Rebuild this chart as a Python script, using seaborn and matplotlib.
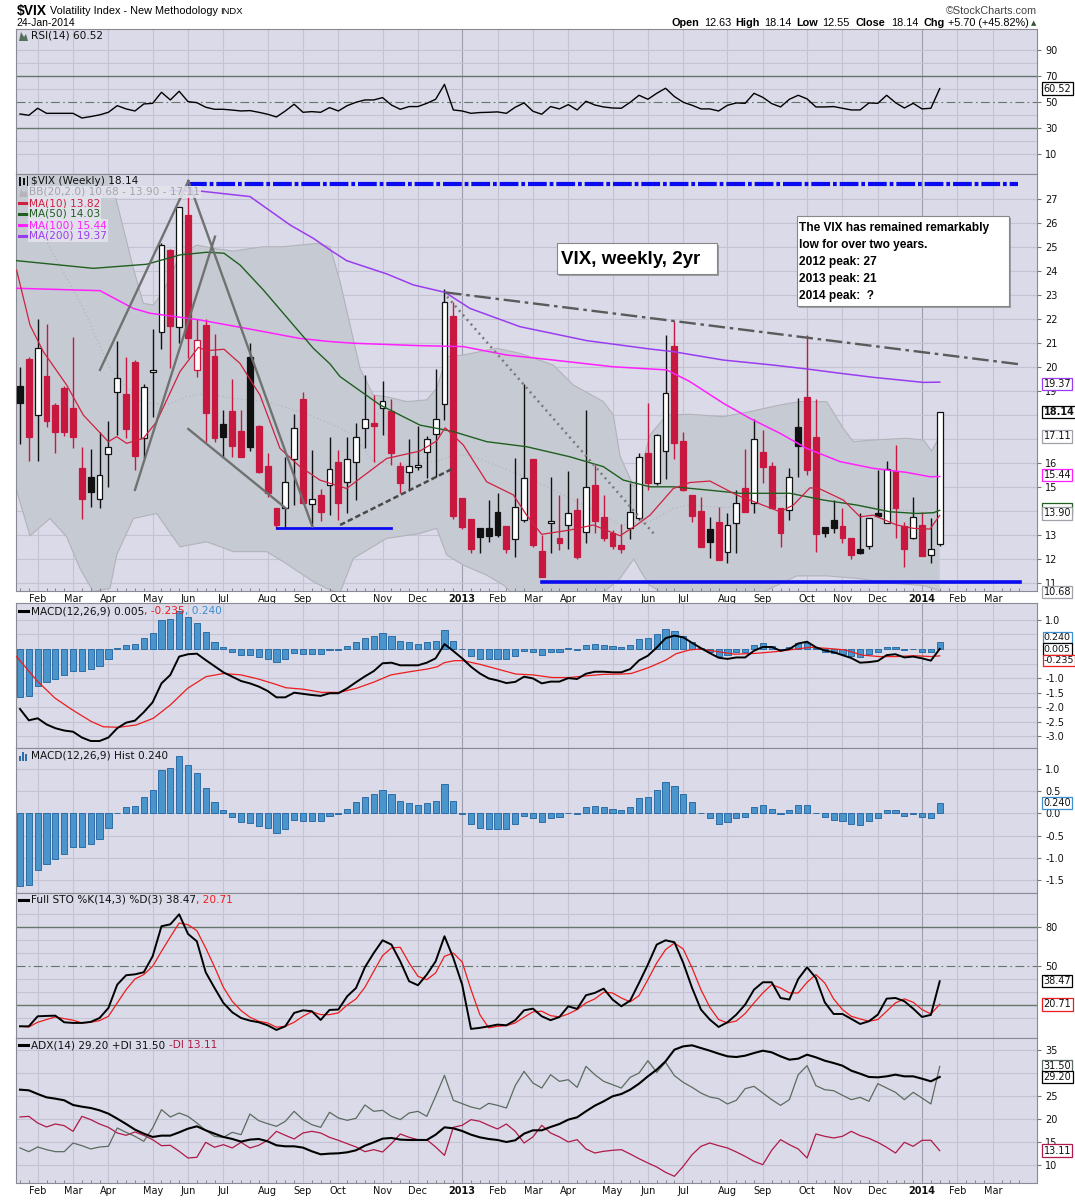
import numpy as np
import pandas as pd
import matplotlib
matplotlib.use("Agg")
import matplotlib.pyplot as plt
import seaborn as sns
from matplotlib.transforms import blended_transform_factory
from matplotlib.lines import Line2D
from matplotlib.patches import Rectangle, Polygon

W, H = 1075, 1200

# ---- weekly $VIX candles: week 0 = week of 23-Jan-2012, week 104 = 24-Jan-2014 ----
first_week = "2012-01-23"
prior_close = 18.0
opens = [19.21, 20.35, 17.99, 19.63, 18.42, 19.11, 18.28, 15.78, 15.40, 14.49,
         16.36, 18.94, 18.88, 20.19, 17.03, 19.78, 21.44, 24.88, 21.68, 26.33,
         19.88, 21.75, 20.46, 17.63, 18.17, 17.33, 20.40, 17.54, 15.88, 14.11,
         14.11, 16.15, 18.67, 14.28, 14.67, 15.08, 16.06, 15.19, 16.06, 17.44,
         17.65, 18.31, 18.17, 15.88, 15.61, 15.82, 16.44, 17.21, 18.44, 22.13,
         14.53, 13.67, 13.28, 13.28, 13.97, 13.38, 12.82, 13.63, 16.15, 12.33,
         13.49, 12.86, 13.44, 14.04, 13.11, 15.08, 13.76, 13.10, 12.58, 13.28,
         13.69, 16.43, 15.15, 16.51, 20.88, 16.92, 14.67, 14.00, 13.24, 13.56,
         12.28, 13.51, 14.94, 14.35, 16.47, 15.88, 14.11, 14.04, 17.49, 18.76,
         17.07, 13.35, 13.63, 13.38, 12.89, 12.40, 12.54, 13.90, 13.49, 15.67,
         13.38, 12.86, 13.42, 12.19, 12.63]
highs = [19.99, 20.40, 22.00, 21.79, 18.50, 19.22, 21.24, 16.68, 16.58, 17.31,
         17.75, 21.08, 20.43, 20.29, 19.29, 21.58, 25.15, 24.90, 26.65, 27.75,
         22.00, 22.00, 21.36, 18.21, 19.50, 18.21, 20.99, 17.60, 16.43, 14.11,
         16.26, 18.04, 18.94, 16.54, 14.90, 17.07, 16.54, 17.10, 17.65, 19.67,
         18.83, 19.42, 18.67, 16.06, 17.00, 17.54, 17.13, 19.92, 23.25, 22.72,
         14.53, 13.67, 13.28, 14.46, 14.74, 13.38, 16.19, 19.29, 16.15, 13.00,
         15.43, 14.67, 15.68, 14.53, 18.21, 15.92, 14.67, 13.21, 13.46, 15.15,
         16.40, 18.51, 17.20, 21.33, 21.92, 17.31, 14.67, 14.60, 13.76, 14.18,
         13.93, 14.88, 16.58, 17.82, 17.38, 16.06, 14.11, 15.78, 18.69, 21.33,
         18.67, 13.35, 14.46, 14.11, 12.89, 13.93, 13.69, 15.71, 16.08, 16.75,
         13.56, 14.60, 13.97, 13.69, 18.14]
lows = [16.78, 16.10, 16.10, 17.51, 16.40, 17.14, 16.61, 13.65, 14.18, 14.14,
        15.01, 17.17, 17.03, 15.71, 16.19, 17.93, 20.74, 19.97, 20.99, 20.36,
        19.60, 16.89, 16.89, 16.26, 16.26, 16.26, 16.50, 15.60, 14.60, 13.25,
        13.35, 14.25, 14.30, 13.35, 13.60, 13.83, 13.63, 13.90, 14.46, 16.61,
        16.03, 17.17, 15.92, 14.74, 14.88, 15.71, 15.39, 15.43, 17.79, 13.67,
        13.24, 12.26, 12.26, 12.72, 12.90, 12.24, 12.07, 13.56, 12.51, 11.26,
        12.26, 12.38, 12.44, 11.99, 12.65, 13.10, 12.76, 12.44, 12.26, 12.82,
        13.63, 14.88, 15.08, 15.33, 16.15, 14.85, 13.56, 12.51, 12.06, 11.96,
        11.82, 12.26, 13.97, 13.90, 15.15, 14.14, 12.51, 13.63, 15.43, 15.50,
        12.31, 12.93, 13.07, 12.65, 11.99, 12.21, 12.44, 13.79, 13.49, 12.89,
        11.68, 12.82, 12.14, 11.82, 12.55]
closes = [18.51, 17.10, 20.79, 17.76, 17.31, 17.28, 17.10, 14.49, 14.81, 15.49,
          16.68, 19.53, 17.42, 16.31, 19.15, 19.87, 25.08, 21.72, 26.65, 21.22,
          21.13, 18.10, 17.06, 17.10, 16.72, 16.26, 16.68, 15.64, 14.74, 13.42,
          15.19, 17.44, 14.32, 14.50, 13.97, 15.74, 14.32, 16.15, 17.07, 17.82,
          17.56, 18.60, 16.40, 15.15, 15.88, 15.92, 16.99, 17.82, 22.69, 13.81,
          13.35, 12.44, 12.90, 12.95, 13.00, 12.44, 14.15, 15.36, 12.58, 11.26,
          13.58, 12.68, 13.90, 12.07, 14.99, 13.60, 12.86, 12.56, 12.44, 13.97,
          16.26, 15.15, 17.17, 18.90, 16.85, 14.88, 13.81, 12.51, 12.72, 11.96,
          13.42, 14.35, 13.97, 16.99, 15.85, 14.14, 13.10, 15.43, 16.72, 15.71,
          13.03, 13.07, 13.28, 12.89, 12.19, 12.26, 13.69, 13.79, 15.75, 14.14,
          12.42, 13.76, 12.14, 12.44, 18.14]

# ---- overlays (week, value) ----
ma10_x = [-0.38, 1.13, 2.64, 5.28, 7.16, 9.99, 10.93, 12.06, 13.95, 15.45, 18.09, 20.17, 21.11,
          23.07, 24.88, 27.14, 29.4, 31.66, 33.92, 36.94, 41.46, 45.23, 47.12, 48.07, 50.13,
          52.77, 55.79, 57.29, 58.99, 62.19, 64.83, 67.85, 69.73, 71.24, 73.88, 75.76, 78.02,
          81.04, 85.94, 87.45, 89.33, 90.46, 93.1, 94.99, 96.49, 99.13, 101.02, 102.9, 104.0]
ma10_y = [24.04, 21.75, 20.64, 19.25, 18.0, 16.89, 17.1, 16.82, 17.03, 17.72, 19.81, 20.82, 20.68,
          20.74, 20.15, 18.83, 16.61, 15.85, 15.29, 14.94, 16.19, 16.5, 16.92, 17.47, 16.75,
          15.22, 14.67, 13.83, 13.03, 13.21, 13.42, 12.97, 13.42, 13.83, 14.94, 15.19, 15.25,
          14.67, 13.97, 14.25, 14.97, 14.92, 14.46, 13.76, 13.83, 13.42, 13.28, 13.25, 13.82]
ma50_x = [-0.38, 8.29, 14.32, 18.09, 21.11, 23.07, 24.88, 27.52, 30.91, 33.17, 35.05, 36.19, 40.71,
          45.23, 49.0, 52.77, 57.29, 62.19, 65.96, 68.22, 71.24, 73.88, 77.65, 81.42, 87.07,
          90.84, 94.61, 98.38, 101.4, 103.28, 104.0]
ma50_y = [24.43, 24.11, 24.28, 24.67, 24.78, 24.74, 24.25, 23.21, 21.75, 20.78, 20.13, 19.6, 18.42,
          17.58, 17.31, 16.89, 16.68, 16.26, 15.85, 15.29, 15.01, 15.01, 14.88, 14.74, 14.74,
          14.46, 14.25, 13.97, 13.9, 13.93, 14.03]
ma100_x = [-0.38, 9.05, 12.82, 14.7, 20.35, 26.01, 31.66, 35.05, 37.69, 45.23, 50.13, 55.03, 60.31,
           67.09, 71.24, 73.13, 75.76, 79.53, 82.55, 85.94, 88.96, 92.73, 96.49, 100.26, 102.9, 104.0]
ma100_y = [23.28, 23.18, 22.44, 22.24, 21.96, 21.58, 21.19, 21.06, 20.99, 20.89, 20.85, 20.5, 20.29,
           20.01, 19.92, 19.88, 19.39, 18.49, 17.86, 17.24, 16.61, 16.06, 15.78, 15.61, 15.43, 15.44]
ma200_x = [16.96, 20.35, 26.01, 30.53, 33.17, 35.05, 36.94, 41.46, 44.48, 48.07, 50.89, 56.54,
           64.08, 71.24, 73.88, 79.53, 85.19, 88.96, 92.73, 96.49, 102.15, 104.0]
ma200_y = [27.35, 27.33, 27.1, 25.92, 25.36, 24.88, 24.43, 23.88, 23.42, 23.11, 22.44, 21.68,
           21.1, 20.75, 20.64, 20.29, 20.08, 19.92, 19.74, 19.57, 19.36, 19.37]
bbu_x = [-0.4, 5.0, 9.0, 10.93, 12.82, 13.95, 15.08, 16.21, 18.09, 19.98, 21.86, 24.12, 27.52, 29.78,
         33.55, 35.05, 36.19, 38.45, 39.96, 41.46, 43.72, 45.98, 47.12, 48.25, 50.13, 53.9, 56.54,
         60.31, 62.57, 65.96, 67.09, 67.85, 69.4, 70.11, 71.24, 73.13, 75.76, 79.53, 82.55, 85.94,
         88.2, 91.22, 93.1, 94.23, 96.49, 100.26, 102.15, 103.09, 104.0]
bbu_y = [31.0, 31.0, 29.5, 26.89, 24.11, 22.65, 22.58, 23.14, 24.67, 25.08, 24.94, 24.83, 25.01, 25.01,
         25.15, 25.01, 23.56, 19.94, 18.83, 18.76, 18.56, 18.63, 19.11, 20.43, 20.5, 20.78, 20.57,
         20.08, 19.25, 18.56, 18.0, 16.3, 15.0, 15.6, 17.17, 18.0, 18.03, 17.93, 18.14, 18.42,
         18.56, 18.56, 17.44, 16.89, 16.96, 17.03, 16.96, 16.5, 17.11]
bbl_x = [-0.4, 1.13, 3.39, 5.28, 6.78, 8.29, 10.18, 10.93, 12.82, 15.45, 18.09, 21.11, 24.12, 27.89,
         29.78, 33.17, 35.05, 36.19, 37.69, 41.46, 45.23, 47.12, 48.25, 50.13, 52.77, 54.66, 57.29,
         62.19, 65.96, 67.85, 69.4, 70.5, 71.24, 73.88, 79.53, 83.31, 87.83, 91.22, 94.61, 98.38,
         102.15, 104.0]
bbl_y = [14.88, 12.97, 13.69, 12.93, 11.61, 10.64, 10.78, 12.17, 13.69, 13.9, 12.51, 12.72, 12.31,
         12.31, 11.89, 11.06, 10.71, 10.6, 12.03, 12.86, 13.07, 13.28, 12.17, 11.75, 11.33, 10.92,
         10.08, 10.0, 10.6, 11.2, 12.0, 11.3, 10.9, 10.3, 10.3, 10.5, 11.3, 11.3, 11.2, 11.0,
         10.9, 10.68]
bbm_x = [-0.4, 1.5, 3.02, 7.16, 10.18, 13.57, 16.59, 18.85, 21.11, 24.12, 27.89, 31.66, 35.05, 37.69,
         39.96, 43.35, 47.12, 49.0, 50.89, 54.66, 58.43, 62.19, 65.96, 67.85, 71.24, 73.88, 75.76,
         79.53, 83.31, 87.07, 88.96, 90.84, 94.61, 98.38, 104.0]
bbm_y = [30.0, 27.5, 25.22, 22.44, 19.94, 18.56, 18.42, 18.76, 18.9, 18.69, 18.56, 18.14, 17.65, 17.17,
         16.06, 15.92, 16.06, 16.33, 16.33, 15.78, 15.22, 14.53, 13.83, 13.42, 13.56, 14.11, 14.25,
         14.14, 14.32, 14.67, 14.94, 14.67, 14.25, 14.11, 13.9]

# ---- hand-drawn annotation lines (week, price) ----
peak_x, peak_y = [19.0, 112.9], [27.62, 27.62]
floor12_x, floor12_y = [29.1, 42.0], [13.28, 13.28]
floor13_x, floor13_y = [59.0, 113.1], [11.03, 11.03]
grey_lines = [([9.05, 19.04], [19.88, 27.75]),
              ([19.04, 33.06], [27.75, 13.35]),
              ([13.0, 22.05], [14.88, 25.43]),
              ([19.03, 30.08], [17.42, 14.11])]
dashed_x, dashed_y = [36.2, 49.0], [13.42, 15.78]
dotted_x, dotted_y = [48.3, 71.8], [22.93, 13.0]
falling_x, falling_y = [48.07, 113.1], [23.11, 20.11]

# ---- indicators, one value per week ----
rsi = [41.0, 40.0, 45.4, 41.5, 41.5, 41.5, 41.5, 37.9, 39.0, 40.3,
       42.3, 47.4, 44.9, 43.3, 48.7, 49.2, 57.7, 51.8, 58.5, 50.5,
       49.7, 46.2, 44.6, 44.6, 44.0, 43.3, 43.6, 42.3, 40.8, 38.7,
       43.3, 48.5, 42.3, 42.8, 42.3, 45.9, 43.3, 47.4, 50.0, 51.8,
       51.8, 53.6, 47.9, 44.6, 46.7, 46.7, 49.2, 52.3, 63.8, 44.1,
       43.3, 41.5, 42.1, 42.3, 42.6, 41.5, 46.2, 49.5, 43.1, 40.8,
       46.7, 44.9, 48.2, 44.1, 50.8, 47.9, 46.4, 45.6, 45.4, 50.0,
       55.4, 52.3, 56.9, 60.8, 54.4, 50.0, 47.7, 44.9, 44.9, 43.3,
       47.7, 49.5, 49.2, 56.9, 53.8, 49.0, 46.4, 52.3, 55.4, 52.6,
       46.4, 46.4, 46.7, 45.4, 44.1, 44.1, 49.5, 49.2, 55.4, 49.7,
       45.6, 49.2, 44.9, 45.4, 60.52]
macd = [-2.06, -2.45, -2.38, -2.59, -2.72, -2.80, -2.84, -3.04, -3.16, -3.16,
        -3.04, -2.72, -2.53, -2.46, -2.17, -1.83, -1.18, -0.89, -0.26, -0.18,
        -0.16, -0.38, -0.59, -0.80, -0.95, -1.10, -1.18, -1.29, -1.44, -1.66,
        -1.66, -1.50, -1.54, -1.58, -1.61, -1.52, -1.52, -1.35, -1.14, -0.94,
        -0.76, -0.49, -0.47, -0.56, -0.56, -0.56, -0.47, -0.32, 0.17, -0.07,
        -0.32, -0.61, -0.84, -1.01, -1.08, -1.17, -1.13, -0.95, -1.01, -1.18,
        -1.12, -1.12, -1.00, -1.03, -0.85, -0.78, -0.78, -0.80, -0.80, -0.69,
        -0.39, -0.23, 0.05, 0.37, 0.46, 0.40, 0.21, 0.03, -0.14, -0.30,
        -0.34, -0.29, -0.29, -0.06, 0.07, 0.07, -0.06, 0.00, 0.19, 0.25,
        0.06, -0.05, -0.11, -0.21, -0.31, -0.47, -0.45, -0.41, -0.21, -0.18,
        -0.29, -0.26, -0.32, -0.40, 0.005]
macd_hist = [-1.65, -1.61, -1.27, -1.15, -1.04, -0.91, -0.77, -0.77, -0.70, -0.57,
             -0.34, 0.02, 0.14, 0.17, 0.37, 0.54, 0.98, 1.02, 1.31, 1.09,
             0.91, 0.57, 0.25, 0.07, -0.09, -0.19, -0.21, -0.28, -0.34, -0.44,
             -0.36, -0.14, -0.17, -0.17, -0.17, -0.05, -0.02, 0.11, 0.25, 0.38,
             0.45, 0.54, 0.45, 0.29, 0.23, 0.18, 0.23, 0.29, 0.66, 0.27,
             -0.01, -0.23, -0.34, -0.36, -0.36, -0.36, -0.23, -0.06, -0.11, -0.20,
             -0.11, -0.09, 0.02, -0.02, 0.14, 0.17, 0.14, 0.09, 0.07, 0.14,
             0.35, 0.38, 0.52, 0.70, 0.63, 0.45, 0.25, 0.02, -0.11, -0.23,
             -0.20, -0.11, -0.09, 0.14, 0.20, 0.11, -0.01, 0.07, 0.20, 0.20,
             0.02, -0.09, -0.14, -0.18, -0.25, -0.27, -0.18, -0.11, 0.07, 0.07,
             -0.05, -0.01, -0.09, -0.11, 0.24]
signal_x = [-0.39, 1.05, 2.02, 3.97, 5.92, 8.06, 9.42, 11.17, 13.12, 15.07, 17.01, 18.96, 21.03,
            23.05, 25.0, 26.95, 28.89, 30.06, 32.01, 34.15, 36.1, 38.04, 39.99, 41.94, 44.08,
            46.03, 47.19, 47.97, 49.14, 50.11, 52.06, 54.01, 56.07, 58.02, 60.18, 62.12, 64.07,
            66.02, 67.97, 69.13, 71.08, 73.03, 74.2, 75.75, 76.92, 78.87, 80.82, 83.15, 85.49,
            87.83, 89.38, 91.33, 93.28, 95.22, 97.17, 99.12, 101.07, 103.01, 104.0]
signal_y = [-0.26, -0.78, -1.12, -1.69, -2.09, -2.49, -2.67, -2.69, -2.61, -2.38, -1.92, -1.35, -0.95,
            -0.84, -0.89, -1.03, -1.21, -1.33, -1.38, -1.49, -1.49, -1.35, -1.14, -0.89, -0.78,
            -0.69, -0.61, -0.47, -0.40, -0.40, -0.53, -0.69, -0.86, -0.89, -0.98, -0.98, -0.92,
            -0.87, -0.86, -0.84, -0.64, -0.38, -0.16, -0.03, 0.0, -0.09, -0.18, -0.15, -0.09,
            0.0, 0.06, 0.02, -0.03, -0.21, -0.26, -0.26, -0.23, -0.26, -0.235]
sto_k = [3.8, 3.8, 11.5, 11.8, 12.0, 6.9, 6.4, 6.4, 7.2, 10.2,
         17.9, 35.9, 43.1, 43.8, 45.4, 57.7, 80.8, 82.3, 90.0, 74.9,
         69.2, 45.4, 33.3, 21.8, 14.6, 10.2, 8.2, 6.9, 4.6, 1.0,
         3.8, 14.1, 16.1, 15.4, 8.7, 16.4, 16.7, 26.9, 33.3, 49.2,
         60.2, 70.0, 66.7, 53.8, 38.5, 35.4, 43.6, 53.8, 73.1, 56.4,
         35.9, 1.8, 2.6, 3.8, 5.1, 4.6, 8.5, 16.1, 17.4, 11.5,
         8.5, 11.0, 19.2, 17.2, 27.7, 29.5, 32.8, 24.4, 19.2, 23.6,
         37.2, 51.3, 66.7, 70.0, 68.5, 52.6, 33.3, 16.7, 9.0, 3.3,
         6.9, 12.8, 20.5, 32.0, 37.7, 37.7, 25.6, 24.4, 40.2, 49.2,
         41.0, 22.3, 13.3, 13.3, 9.5, 5.6, 7.7, 12.8, 25.1, 25.6,
         23.1, 17.4, 11.0, 12.6, 38.47]
sto_d = [3.8, 3.3, 6.9, 9.0, 11.0, 9.7, 8.5, 6.4, 6.9, 8.2,
         11.5, 21.8, 32.0, 40.2, 43.6, 50.0, 61.5, 72.6, 83.3, 82.0,
         77.4, 64.1, 49.5, 33.8, 23.1, 15.9, 10.8, 7.7, 6.4, 3.1,
         3.8, 6.9, 11.5, 15.1, 12.8, 12.8, 14.1, 20.2, 24.9, 33.8,
         46.1, 58.2, 64.1, 64.6, 52.6, 42.3, 39.7, 44.9, 57.7, 60.2,
         53.3, 32.0, 12.8, 2.6, 3.8, 4.3, 6.4, 10.8, 14.9, 15.4,
         12.0, 11.0, 13.3, 16.7, 21.8, 24.9, 30.0, 29.5, 25.6, 22.6,
         27.4, 39.7, 52.6, 62.8, 67.9, 63.3, 48.7, 32.0, 18.5, 9.0,
         6.4, 7.9, 13.6, 21.8, 29.5, 35.9, 33.3, 29.5, 29.5, 37.7,
         43.6, 37.2, 24.9, 16.7, 11.5, 9.5, 7.7, 9.0, 15.4, 21.8,
         24.9, 22.3, 16.7, 13.3, 20.71]
adx = [26.42, 26.28, 25.48, 24.75, 24.46, 24.10, 23.08, 22.71, 22.42, 21.91,
       21.19, 20.09, 18.93, 17.70, 16.82, 16.10, 16.39, 16.39, 17.11, 17.91,
       18.42, 17.55, 16.82, 16.10, 15.66, 15.08, 15.52, 15.66, 15.15, 14.28,
       14.06, 14.06, 13.77, 12.97, 12.31, 12.46, 12.53, 12.75, 13.19, 14.20,
       14.93, 15.73, 15.88, 15.52, 15.44, 15.44, 15.44, 16.60, 18.20, 17.99,
       17.40, 16.60, 16.02, 15.66, 15.44, 15.00, 15.37, 16.82, 17.55, 17.55,
       18.28, 18.93, 19.88, 20.39, 21.70, 22.93, 23.88, 24.97, 25.48, 26.42,
       27.73, 29.33, 30.78, 32.61, 35.15, 35.88, 36.10, 35.51, 34.93, 34.28,
       33.70, 33.55, 33.84, 34.42, 34.93, 34.57, 33.70, 32.97, 33.19, 34.06,
       33.48, 32.75, 32.24, 31.66, 30.57, 29.91, 29.19, 29.11, 29.33, 29.70,
       29.33, 29.33, 28.82, 28.24, 29.20]
plus_di = [13.70, 12.89, 13.91, 13.33, 12.89, 12.89, 14.78, 14.20, 13.48, 13.91,
           14.06, 18.06, 17.11, 16.24, 15.15, 18.06, 22.06, 20.46, 21.33, 20.60,
           19.15, 17.55, 16.24, 16.02, 17.11, 16.60, 21.11, 19.66, 19.00, 18.42,
           19.51, 21.70, 19.88, 18.78, 18.20, 21.48, 20.24, 19.73, 20.17, 23.08,
           21.70, 21.91, 20.60, 19.88, 21.33, 21.70, 20.60, 24.97, 29.55, 24.10,
           23.37, 22.64, 22.20, 23.44, 23.00, 22.42, 27.30, 30.42, 27.88, 26.78,
           29.69, 28.24, 28.60, 26.93, 31.51, 29.69, 28.24, 27.51, 26.78, 29.11,
           30.06, 32.75, 30.20, 32.39, 29.48, 28.02, 26.93, 25.69, 24.82, 24.46,
           23.30, 24.10, 26.64, 27.15, 25.69, 24.24, 23.00, 24.24, 29.69, 31.66,
           27.30, 26.42, 26.20, 25.19, 24.24, 24.75, 23.88, 27.73, 26.78, 25.84,
           24.24, 25.84, 24.60, 23.30, 31.50]
minus_di = [20.46, 20.60, 19.15, 18.28, 18.93, 18.57, 17.33, 20.60, 19.88, 18.93,
            18.20, 16.97, 16.46, 17.19, 16.46, 15.51, 14.20, 14.28, 12.97, 11.51,
            11.66, 14.93, 13.84, 14.42, 13.70, 14.93, 13.70, 14.28, 15.37, 17.33,
            16.46, 15.66, 16.97, 17.33, 16.97, 16.02, 15.37, 14.64, 13.91, 12.89,
            13.33, 12.82, 14.64, 16.75, 16.02, 15.51, 15.51, 13.91, 12.09, 18.20,
            18.64, 19.88, 19.51, 18.64, 17.84, 18.93, 17.33, 14.78, 16.10, 18.64,
            16.97, 16.10, 15.00, 15.51, 13.48, 12.60, 12.97, 13.19, 13.33, 12.38,
            11.36, 10.42, 9.55, 8.38, 7.51, 9.69, 12.24, 14.06, 14.78, 14.20,
            13.70, 12.82, 11.87, 10.78, 10.06, 13.19, 15.51, 14.42, 13.48, 11.51,
            16.75, 16.24, 15.88, 16.24, 17.33, 16.39, 15.80, 14.93, 13.84, 12.60,
            14.93, 14.06, 15.37, 15.37, 13.11]

note_lines = ["The VIX has remained remarkably", "low for over two years.",
              "2012 peak: 27", "2013 peak: 21", "2014 peak:  ?"]

# ---------------------------------------------------------------------------
plt.rcParams['font.family'] = ['DejaVu Sans']
BG = '#dadae8'
GRID = '#c3c3d3'
YEARLINE = '#9c9cac'
SPINE = '#8a8a94'
RED = '#c8183f'
BLUE_BAR = '#4a96cc'
LEVEL = '#66766a'

n = len(closes)
weeks = np.arange(n)
XMIN, XMAX = -0.45, 115.0
dates = pd.date_range(first_week, periods=116, freq="W-MON")
month_idx, month_lab = [], []
for i in range(1, 114):
    if dates[i].month != dates[i - 1].month:
        month_idx.append(i)
        month_lab.append(str(dates[i].year) if dates[i].month == 1 else dates[i].strftime("%b"))

fig = plt.figure(figsize=(W / 100, H / 100), dpi=100)
fig.patch.set_facecolor('white')


def fx(px):
    return px / W


def fy(py):
    return 1 - py / H


def panel(top, bottom):
    return fig.add_axes([fx(16), fy(bottom), (1037 - 16) / W, (bottom - top) / H])


def style(ax, ylim, yticks, ylabels, hgrid, xlabels=False):
    ax.set_facecolor(BG)
    ax.set_xlim(XMIN, XMAX)
    ax.set_ylim(*ylim)
    for m, lab in zip(month_idx, month_lab):
        ax.axvline(m, color=YEARLINE if lab.isdigit() else GRID, lw=0.8, zorder=0.5)
    for h in hgrid:
        ax.axhline(h, color=GRID, lw=0.8, zorder=0.5)
    ax.yaxis.tick_right()
    ax.set_yticks(yticks)
    ax.set_yticklabels(ylabels)
    ax.tick_params(axis='y', labelsize=7, length=3, pad=3, color='#777777', labelcolor='#111111')
    ax.set_xticks(month_idx)
    if xlabels:
        ax.set_xticklabels(month_lab)
        ax.tick_params(axis='x', labelsize=7, length=0, pad=2, labelcolor='#111111')
        for t in ax.get_xticklabels():
            if t.get_text().isdigit():
                t.set_fontweight('bold')
        ax.set_xticks(np.arange(0, 114), minor=True)
        ax.tick_params(axis='x', which='minor', length=2, direction='in', color='#777777')
    else:
        ax.set_xticklabels([])
        ax.tick_params(axis='x', length=0)
    for s in ax.spines.values():
        s.set_color(SPINE)
        s.set_linewidth(0.8)
    ax.set_xlabel('')
    ax.set_ylabel('')


def tag(ax, y, text, ec, bold=False, size=7):
    tr = blended_transform_factory(ax.transAxes, ax.transData)
    ax.text(1.0065, y, text, transform=tr, fontsize=size, va='center', ha='left', color='#111111',
            fontweight='bold' if bold else 'normal', clip_on=False, zorder=20,
            bbox=dict(boxstyle='square,pad=0.12', fc='white', ec=ec, lw=0.9))


renderer = fig.canvas.get_renderer()


def seg_text(x, y, parts, size=7.6, family='DejaVu Sans', **kw):
    for txt, col in parts:
        t = fig.text(fx(x), fy(y), txt, color=col, fontsize=size, va='center', ha='left',
                     family=family, **kw)
        x += t.get_window_extent(renderer=renderer).width


def legend_line(y, color):
    fig.add_artist(Line2D([fx(19), fx(28)], [fy(y), fy(y)], color=color, lw=2.2,
                          transform=fig.transFigure))


def icon_poly(pts, color):
    fig.add_artist(Polygon([(fx(a), fy(b)) for a, b in pts], closed=True, fc=color, ec='none',
                           transform=fig.transFigure, zorder=5))


def icon_rect(x0, y0, w, h, color):
    fig.add_artist(Rectangle((fx(x0), fy(y0 + h)), w / W, h / H, fc=color, ec='none',
                             transform=fig.transFigure, zorder=5))


# ---------------- RSI ----------------
ax_rsi = panel(29, 174)
sns.lineplot(x=weeks, y=rsi, ax=ax_rsi, color='black', linewidth=1.0)
style(ax_rsi, (-5.2, 106.4), [10, 30, 50, 70, 90], ['10', '30', '50', '70', '90'],
      [10, 20, 40, 60, 80, 90])
ax_rsi.axhline(70, color=LEVEL, lw=1.0, zorder=1)
ax_rsi.axhline(30, color=LEVEL, lw=1.0, zorder=1)
ax_rsi.axhline(50, color=LEVEL, lw=0.8, ls=(0, (8, 3, 1.5, 3)), zorder=1)
tag(ax_rsi, 60.52, '60.52', 'black')

# ---------------- price ----------------
ax_px = panel(174, 591)
ax_px.fill(np.r_[bbu_x, bbl_x[::-1]], np.r_[bbu_y, bbl_y[::-1]], color='#c6cbd3', lw=0, zorder=1)
sns.lineplot(x=bbu_x, y=bbu_y, ax=ax_px, color='#b2b2ba', linewidth=0.8, zorder=1.2)
sns.lineplot(x=bbl_x, y=bbl_y, ax=ax_px, color='#b2b2ba', linewidth=0.8, zorder=1.2)
sns.lineplot(x=bbm_x, y=bbm_y, ax=ax_px, color='#b4b4be', linewidth=0.9, linestyle=(0, (1, 2)),
             zorder=1.2)

prev = [prior_close] + closes[:-1]
for i in weeks:
    o, h, l, c, p = opens[i], highs[i], lows[i], closes[i], prev[i]
    col = '#111111' if c >= p else RED
    face = 'white' if c > o else col
    ax_px.vlines(i, l, h, color=col, lw=1.0, zorder=3)
    ax_px.bar(i, max(abs(c - o), 0.06), bottom=min(o, c), width=0.66, color=face,
              edgecolor=col, linewidth=0.9, zorder=3.1)

sns.lineplot(x=ma200_x, y=ma200_y, ax=ax_px, color='#9a3cf0', linewidth=1.1, zorder=4)
sns.lineplot(x=ma100_x, y=ma100_y, ax=ax_px, color='#ff1fff', linewidth=1.1, zorder=4)
sns.lineplot(x=ma50_x, y=ma50_y, ax=ax_px, color='#1f5f1f', linewidth=1.0, zorder=4)
sns.lineplot(x=ma10_x, y=ma10_y, ax=ax_px, color='#d02040', linewidth=0.9, zorder=4)

ax_px.plot(peak_x, peak_y, color='#0a0af0', lw=3.0, ls=(0, (4.5, 0.7, 0.9, 0.7)), zorder=6,
           solid_capstyle='butt', dash_capstyle='butt')
ax_px.plot(floor12_x, floor12_y, color='#0a0af0', lw=2.0, zorder=6)
ax_px.plot(floor13_x, floor13_y, color='#0a0af0', lw=2.6, zorder=6)
for gx, gy in grey_lines:
    ax_px.plot(gx, gy, color='#6c6c6c', lw=1.7, zorder=6, alpha=0.95)
ax_px.plot(dashed_x, dashed_y, color='#4a4a4a', lw=1.8, ls=(0, (2.2, 1.2)), zorder=6)
ax_px.plot(dotted_x, dotted_y, color='#7a7a7a', lw=1.8, ls=(0, (0.8, 1.6)), zorder=6)
ax_px.plot(falling_x, falling_y, color='#5a5a5a', lw=1.7, ls=(0, (7, 2, 1.5, 2)), zorder=6)

px_ticks = [v for v in range(11, 28) if v not in (14, 17, 18)]
style(ax_px, (10.67, 28.04), px_ticks, [str(v) for v in px_ticks], list(range(11, 28)), xlabels=True)
tag(ax_px, 19.30, '19.37', '#9a3cf0')
tag(ax_px, 18.14, '18.14', 'black', bold=True)
tag(ax_px, 17.11, '17.11', '#a0a0a8')
tag(ax_px, 15.50, '15.44', '#ff1fff')
# the 14.03 MA(50) tag sits almost entirely under the 13.90 tag: only its green frame shows
tr_px = blended_transform_factory(ax_px.transAxes, ax_px.transData)
ax_px.add_patch(Rectangle((1.0045, 13.84), 0.03, 0.5, transform=tr_px, fc='white', ec='#1f5f1f',
                          lw=0.9, clip_on=False, zorder=19))
tag(ax_px, 13.90, '13.90', '#a0a0a8')
tag(ax_px, 10.62, '10.68', '#a0a0a8')

# ---------------- MACD ----------------
ax_macd = panel(603, 748)
ax_macd.bar(weeks, macd_hist, width=0.7, color=BLUE_BAR, edgecolor='#2d6da6', linewidth=0.7, zorder=2)
sns.lineplot(x=signal_x, y=signal_y, ax=ax_macd, color='#ee1c1c', linewidth=0.9, zorder=3)
sns.lineplot(x=weeks, y=macd, ax=ax_macd, color='black', linewidth=1.4, zorder=4)
mt = np.arange(-3.0, 1.01, 0.5)
mt_lab = [v for v in mt if v >= 0.99 or v <= -0.99]
style(ax_macd, (-3.40, 1.58), mt_lab, ['%.1f' % v for v in mt_lab], mt)
tag(ax_macd, 0.40, '0.240', '#3d8fd0', size=6.8)
tag(ax_macd, 0.00, '0.005', 'black', size=6.8)
tag(ax_macd, -0.40, '-0.235', '#ee1c1c', size=6.8)

# ---------------- MACD histogram ----------------
ax_hist = panel(748, 893)
ax_hist.bar(weeks, macd_hist, width=0.7, color=BLUE_BAR, edgecolor='#2d6da6', linewidth=0.7, zorder=2)
ht = np.arange(-1.5, 1.01, 0.5)
style(ax_hist, (-1.80, 1.48), ht, ['%.1f' % v for v in ht], ht)
tag(ax_hist, 0.24, '0.240', '#3d8fd0')

# ---------------- Full STO ----------------
ax_sto = panel(893, 1038)
sns.lineplot(x=weeks, y=sto_d, ax=ax_sto, color='#ee1c1c', linewidth=0.9, zorder=3)
sns.lineplot(x=weeks, y=sto_k, ax=ax_sto, color='black', linewidth=1.4, zorder=4)
style(ax_sto, (-5.2, 106.4), [50, 80], ['50', '80'], [10, 30, 40, 60, 70, 90])
ax_sto.axhline(80, color=LEVEL, lw=1.0, zorder=1)
ax_sto.axhline(20, color=LEVEL, lw=1.0, zorder=1)
ax_sto.axhline(50, color=LEVEL, lw=0.8, ls=(0, (8, 3, 1.5, 3)), zorder=1)
tag(ax_sto, 38.47, '38.47', 'black')
tag(ax_sto, 20.71, '20.71', '#ee1c1c')

# ---------------- ADX ----------------
ax_adx = panel(1038, 1183)
sns.lineplot(x=weeks, y=minus_di, ax=ax_adx, color='#b01a48', linewidth=0.9, zorder=3)
sns.lineplot(x=weeks, y=plus_di, ax=ax_adx, color='#5c6c60', linewidth=0.9, zorder=3)
sns.lineplot(x=weeks, y=adx, ax=ax_adx, color='black', linewidth=1.5, zorder=4)
at = [10, 15, 20, 25, 35]
style(ax_adx, (6.05, 37.7), at, [str(v) for v in at], [10, 15, 20, 25, 30, 35], xlabels=True)
tag(ax_adx, 31.50, '31.50', '#5c6c60')
tag(ax_adx, 29.20, '29.20', 'black')
tag(ax_adx, 13.11, '13.11', '#b01a48')

# ---------------- header ----------------
fig.text(fx(16.5), fy(11), '$VIX', fontsize=10, fontweight='bold', family='Liberation Sans',
         va='center', ha='left')
fig.text(fx(50), fy(11), 'Volatility Index - New Methodology', fontsize=7.8,
         family='Liberation Sans', va='center', ha='left')
fig.text(fx(220), fy(11.5), 'INDX', fontsize=6.8, family='Liberation Sans', va='center', ha='left')
fig.text(fx(16.5), fy(23.5), '24-Jan-2014', fontsize=7.5, family='Liberation Sans',
         va='center', ha='left')
fig.text(fx(1037), fy(11), '\u00a9StockCharts.com', fontsize=7.8, family='Liberation Sans',
         color='#444444', va='center', ha='right')
for txt, xp, bold in [('Open', 671, True), ('12.63', 704, False), ('High', 735, True),
                      ('18.14', 764, False), ('Low', 796, True), ('12.55', 822, False),
                      ('Close', 856, True), ('18.14', 891, False), ('Chg', 924, True),
                      ('+5.70 (+45.82%)', 948, False)]:
    fig.text(fx(xp), fy(23.5), txt, fontsize=7.8, family='Liberation Sans',
             fontweight='bold' if bold else 'normal', va='center', ha='left')
fig.text(fx(1031), fy(23.5), '\u25b2', fontsize=5, color='#335533', va='center', ha='left')

# ---------------- panel legends ----------------
icon_poly([(19, 41), (21, 32), (24, 37), (26, 34), (28, 41)], '#56705e')
seg_text(31, 36, [('RSI(14) 60.52', '#111111')])
icon_rect(19, 177, 2, 9, '#111111')
icon_rect(23, 178, 2, 7, '#111111')
icon_rect(26.5, 176, 1.5, 10, '#111111')
seg_text(31, 181, [('$VIX (Weekly) 18.14', '#111111')])
leg_bg = dict(boxstyle='square,pad=0.1', fc='#e4e4ee', ec='none', alpha=0.85)
icon_poly([(19, 197), (21, 189), (24, 193), (26, 190), (28, 197)], '#b4b4bc')
fig.text(fx(29), fy(192), 'BB(20,2.0) 10.68 - 13.90 - 17.11', fontsize=7.6, color='#a4a4ac',
         va='center', ha='left', bbox=leg_bg)
for yy, txt, col in [(203, 'MA(10) 13.82', '#d02040'), (214, 'MA(50) 14.03', '#1f5f1f'),
                     (225, 'MA(100) 15.44', '#ff1fff'), (236, 'MA(200) 19.37', '#9a3cf0')]:
    fig.text(fx(29), fy(yy), txt, fontsize=7.6, color=col, va='center', ha='left', bbox=leg_bg)
    legend_line(yy, col)
legend_line(611, 'black')
seg_text(31, 611, [('MACD(12,26,9) 0.005', '#111111'), (', -0.235', '#ee1c1c'),
                   (', 0.240', '#3d8fd0')])
icon_rect(19, 756, 2, 5, '#2d6da6')
icon_rect(22, 752, 2, 9, '#2d6da6')
icon_rect(25, 754, 2, 7, '#2d6da6')
seg_text(31, 756, [('MACD(12,26,9) Hist 0.240', '#111111')])
legend_line(900, 'black')
seg_text(31, 900, [('Full STO %K(14,3) %D(3) 38.47', '#111111'), (', 20.71', '#ee1c1c')])
legend_line(1045, 'black')
seg_text(31, 1045, [('ADX(14) 29.20 +DI 31.50 ', '#111111'), ('-DI 13.11', '#b01a48')])

# ---------------- annotation boxes ----------------
fig.add_artist(Rectangle((fx(559), fy(276)), 160 / W, 31 / H, transform=fig.transFigure,
                         fc='#9a9aa4', ec='none', zorder=8))
fig.add_artist(Rectangle((fx(557), fy(274)), 160 / W, 31 / H, transform=fig.transFigure,
                         fc='white', ec='#888888', lw=0.8, zorder=9))
fig.text(fx(561), fy(259), 'VIX, weekly, 2yr', fontsize=13.5, fontweight='bold',
         family='Liberation Sans', va='center', ha='left', zorder=10)

fig.add_artist(Rectangle((fx(799), fy(308)), 212 / W, 90 / H, transform=fig.transFigure,
                         fc='#9a9aa4', ec='none', zorder=8))
fig.add_artist(Rectangle((fx(797), fy(306)), 212 / W, 90 / H, transform=fig.transFigure,
                         fc='white', ec='#888888', lw=0.8, zorder=9))
for k, line in enumerate(note_lines):
    fig.text(fx(799), fy(228 + 17 * k), line, fontsize=8.6, fontweight='bold',
             family='Liberation Sans', va='center', ha='left', zorder=10)

fig.savefig('out.png', dpi=100, facecolor='white')
